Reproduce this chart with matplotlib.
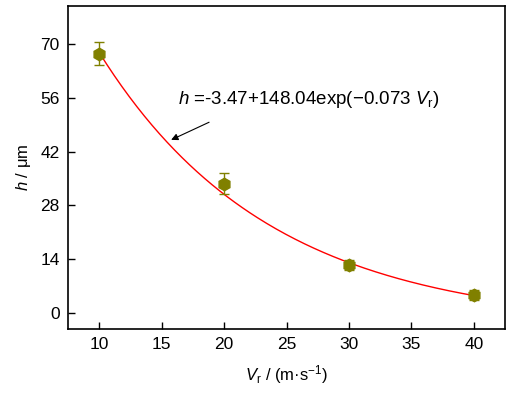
import numpy as np
import matplotlib
matplotlib.use("Agg")
import matplotlib.pyplot as plt

plt.rcParams['font.family'] = ['Liberation Sans', 'DejaVu Sans']
plt.rcParams['mathtext.fontset'] = 'custom'
plt.rcParams['mathtext.rm'] = 'Liberation Sans'
plt.rcParams['mathtext.it'] = 'Liberation Sans:italic'

vr = [10, 20, 30, 40]
h = [67.6, 33.7, 12.6, 4.6]
h_err = [3.0, 2.7, 1.3, 1.3]
fit_a, fit_b, fit_k = -3.47, 148.04, -0.073
xticks = [10, 15, 20, 25, 30, 35, 40]
yticks = [0, 14, 28, 42, 56, 70]

fig = plt.figure(figsize=(5.19, 3.96), dpi=100)
ax = fig.add_axes([68/519, 1-329/396, (505-68)/519, (329-6)/396])

xs = np.linspace(vr[0], vr[-1], 200)
ax.plot(xs, fit_a + fit_b*np.exp(fit_k*xs), color='red', lw=1.0, zorder=2)
ax.errorbar(vr, h, yerr=h_err, fmt='h', color='#808000', ms=9, capsize=3.5,
            elinewidth=1.0, capthick=1.0, zorder=3)

ax.set_xlim(7.5, 42.5)
ax.set_ylim(-4.2, 80)
ax.set_xticks(xticks)
ax.set_yticks(yticks)
ax.tick_params(direction='in', length=5, width=1, labelsize=12.5, top=False, right=False, pad=6)
for s in ax.spines.values():
    s.set_linewidth(1.2)

ax.set_xlabel(r'$\mathit{V}_{\mathrm{r}}$ / (m·s$^{\mathrm{-1}}$)', fontsize=12, labelpad=8)
ax.set_ylabel(r'$\mathit{h}$ / μm', fontsize=12, labelpad=5)

ax.text(16.3, 55.5, r'$\mathit{h}$ =-3.47+148.04exp(−0.073 $\mathit{V}_{\mathrm{r}}$)',
        fontsize=13.5, ha='left', va='center')
ax.annotate('', xy=(15.76, 45.1), xytext=(18.8, 49.7),
            arrowprops=dict(arrowstyle='-|>', color='black', lw=0.8,
                            shrinkA=0, shrinkB=0, mutation_scale=10))

fig.savefig('out.png', dpi=100)
